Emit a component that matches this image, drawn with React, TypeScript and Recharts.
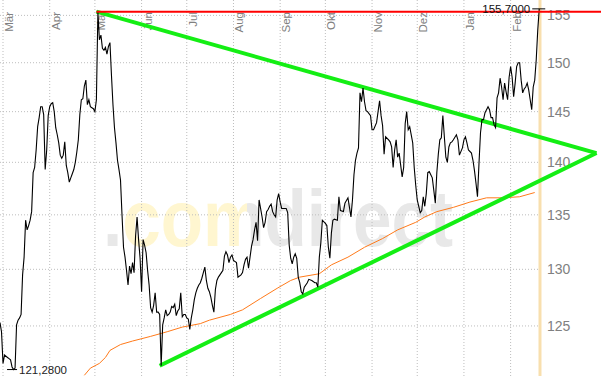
import React from "react";
import { ComposedChart, Line, XAxis, YAxis, ReferenceLine, ReferenceDot } from "recharts";

const FONT = "'Liberation Sans', Arial, Helvetica, sans-serif";

// x values are calendar days counted from 1 March
const monthTicks = [0, 31, 61, 92, 122, 153, 184, 214, 245, 275, 306, 337];
const monthLabels = ["Mär", "Apr", "Mai", "Jun", "Jul", "Aug", "Sep", "Okt", "Nov", "Dez", "Jan", "Feb"];
const priceTicks = [125, 130, 135, 140, 145, 150, 155];

const priceDays = [
  -2, -1, 0, 1, 3, 4, 5, 6, 7, 8,
  9, 10, 11, 12, 13, 14, 15, 16, 17, 18,
  19, 20, 21, 22, 23, 24, 25, 26, 27, 28,
  29, 30, 31, 32, 33, 34, 35, 36, 37, 38,
  39, 40, 41, 42, 43, 44, 45, 46, 47, 48,
  49, 50, 51, 52, 53, 54, 55, 56, 57, 58,
  59, 60, 61, 62, 63, 64, 65, 66, 67, 68,
  69, 70, 71, 72, 73, 74, 75, 76, 77, 78,
  79, 80, 81, 82, 83, 84, 85, 86, 87, 88,
  89, 90, 91, 92, 93, 94, 95, 96, 97, 98,
  99, 100, 101, 102, 103, 104, 105, 106, 107, 108,
  109, 110, 111, 112, 113, 114, 115, 116, 117, 118,
  119, 120, 121, 122, 123, 124, 125, 126, 127, 128,
  129, 130, 131, 132, 133, 134, 135, 136, 137, 138,
  139, 140, 141, 142, 143, 145, 146, 147, 148, 149,
  150, 151, 152, 153, 155, 156, 158, 159, 160, 161,
  162, 163, 164, 165, 166, 167, 168, 169, 170, 171,
  172, 173, 174, 175, 176, 177, 178, 179, 180, 181,
  182, 183, 184, 185, 187, 188, 189, 190, 191, 192,
  193, 194, 195, 196, 197, 198, 199, 200, 202, 203,
  205, 207, 208, 209, 210, 211, 212, 214, 215, 216,
  217, 218, 219, 220, 222, 223, 224, 226, 227, 229,
  230, 231, 232, 233, 234, 235, 236, 237, 238, 239,
  240, 241, 242, 244, 245, 246, 248, 249, 250, 251,
  252, 253, 254, 256, 257, 258, 259, 260, 261, 262,
  263, 265, 266, 267, 268, 269, 270, 272, 273, 274,
  275, 276, 277, 278, 279, 280, 281, 282, 283, 285,
  286, 287, 288, 289, 290, 291, 292, 293, 294, 295,
  296, 297, 298, 299, 301, 302, 303, 305, 306, 307,
  308, 309, 311, 312, 313, 314, 315, 316, 317, 318,
  319, 320, 321, 322, 323, 324, 325, 326, 327, 328,
  329, 330, 331, 332, 333, 334, 335, 336, 337, 338,
  339, 340, 341, 342, 343, 344, 345, 346, 347, 348,
  349, 350, 351, 352, 353, 354, 355, 356,
];

const priceValues = [
  125.3, 124.5, 121.8, 122.5, 122.3, 122.2, 122.1, 121.5, 121.28, 121.4,
  125.1, 125.5, 125.7, 126.0, 129.5, 131.1, 134.5, 133.6, 134.0, 134.5,
  135.3, 139.0, 139.5, 141.2, 143.5, 144.4, 145.5, 145.5, 144.7, 139.3,
  141.2, 144.6, 145.5, 145.8, 145.9, 145.0, 143.4, 142.7, 141.9, 140.7,
  140.4, 140.7, 142.0, 139.7, 139.0, 138.1, 138.5, 138.9, 139.3, 140.0,
  141.0, 142.2, 144.7, 146.2, 146.3, 147.6, 148.2, 145.7, 146.2, 145.5,
  145.4, 145.3, 145.0, 146.2, 155.4, 152.4, 152.9, 151.5, 151.3, 151.6,
  150.9, 151.7, 152.1, 148.7, 145.7, 143.4, 141.9, 140.2, 139.3, 138.3,
  135.0, 132.0, 131.1, 129.9, 128.6, 130.3, 129.6, 130.6, 129.7, 133.0,
  134.8, 132.7, 131.0, 128.0, 132.7, 132.2, 131.5, 129.9, 128.6, 126.6,
  126.2, 126.8, 127.9, 126.2, 126.2, 126.0, 121.6, 125.1, 125.7, 126.4,
  125.9, 126.0, 126.2, 126.7, 126.6, 126.9, 125.9, 126.3, 126.5, 127.9,
  125.8, 126.0, 126.0, 125.7, 125.6, 124.7, 125.7, 126.4, 127.3, 127.9,
  128.3, 128.6, 128.8, 129.2, 129.7, 130.2, 129.0, 128.3, 128.0, 127.5,
  126.8, 126.2, 128.2, 129.0, 129.3, 129.7, 129.9, 131.2, 131.6, 131.3,
  130.6, 131.1, 131.3, 130.8, 130.6, 129.3, 129.5, 129.7, 130.4, 130.9,
  131.1, 130.1, 131.1, 132.1, 132.7, 133.6, 134.3, 132.6, 136.4, 135.6,
  134.8, 133.8, 134.3, 135.3, 135.5, 135.8, 136.0, 135.3, 135.0, 134.8,
  136.4, 137.0, 136.2, 135.6, 135.6, 135.6, 135.2, 132.2, 131.0, 130.5,
  131.1, 131.4, 131.0, 129.3, 128.8, 128.0, 127.8, 128.4, 128.8, 129.1,
  129.0, 128.8, 128.8, 128.4, 131.1, 132.4, 134.5, 134.2, 134.0, 132.0,
  131.0, 133.3, 134.5, 134.6, 134.5, 136.7, 135.4, 135.3, 136.1, 136.6,
  135.7, 134.8, 136.4, 138.8, 140.2, 140.9, 141.4, 146.9, 146.0, 147.4,
  146.0, 145.1, 145.0, 144.6, 143.2, 143.2, 143.9, 145.0, 146.1, 144.6,
  143.6, 140.8, 142.5, 142.2, 142.0, 141.5, 139.5, 141.2, 142.2, 140.5,
  140.9, 138.6, 139.5, 143.8, 145.0, 143.2, 143.5, 141.9, 139.5, 137.8,
  136.4, 135.8, 135.2, 135.4, 136.7, 135.8, 137.0, 139.0, 139.1, 138.5,
  137.3, 136.1, 139.0, 140.8, 142.2, 142.4, 144.6, 142.5, 140.5, 140.0,
  141.5, 141.9, 142.0, 142.2, 142.7, 142.2, 140.7, 141.4, 142.2, 142.5,
  141.9, 141.2, 140.9, 140.2, 139.2, 138.0, 136.7, 139.9, 142.9, 144.2,
  144.2, 144.9, 145.2, 145.5, 145.2, 144.4, 144.4, 143.7, 143.4, 146.4,
  146.9, 148.4, 147.5, 146.2, 147.9, 147.0, 146.2, 148.5, 149.6, 148.5,
  146.5, 147.9, 149.6, 150.0, 150.0, 148.2, 146.9, 147.3, 147.5, 147.9,
  147.2, 146.2, 145.2, 147.5, 148.2, 150.3, 153.4, 155.7,
];

// 200-day moving average
const maDays = [54, 58, 64, 68, 71, 78, 86, 98, 109, 119, 131, 137, 151, 159, 171, 182, 191, 197, 210, 218, 229, 240, 252, 262, 274, 280, 288, 299, 310, 321, 332, 343, 353];
const maValues = [120.8, 121.4, 121.8, 122.3, 122.9, 123.4, 123.7, 124.1, 124.5, 124.9, 125.2, 125.5, 126.0, 126.4, 127.4, 128.3, 129.0, 129.3, 129.6, 130.4, 131.1, 132.0, 132.8, 133.6, 134.3, 134.8, 135.3, 135.7, 136.2, 136.6, 136.6, 136.7, 137.1];

// triangle trend lines and resistance
const upperTrendDays = [62, 394];
const upperTrendValues = [155.4, 140.9];
const lowerTrendDays = [104, 394];
const lowerTrendValues = [121.6, 140.9];
const resistanceDays = [62, 397];
const resistanceValues = [155.4, 155.4];

const highDay = 356;
const highValue = 155.7;
const lowDay = 7;
const lowValue = 121.28;
const todayDay = 356.5;

const X_DOMAIN: [number, number] = [-2, 397];
const Y_DOMAIN: [number, number] = [120.74, 156.66];
const GRID = "#bdbdbd";

const toSeries = (days: number[], vals: number[]) => days.map((d, i) => ({ d, v: vals[i] }));
const fmt = (v: number) => v.toFixed(4).replace(".", ",");

const MonthLabel = (props: any) => {
  const { viewBox, text } = props;
  if (!viewBox) return null;
  const tx = viewBox.x + 10;
  const ty = 12;
  return (
    <text x={tx} y={ty} transform={`rotate(-90, ${tx}, ${ty})`} textAnchor="end" fill="#808080" fontSize={11.5} fontFamily={FONT}>
      {text}
    </text>
  );
};

const PriceLabel = (props: any) => {
  const { viewBox, text } = props;
  if (!viewBox) return null;
  return (
    <text x={547} y={viewBox.y + 5} textAnchor="start" fill="#808080" fontSize={14} fontFamily={FONT}>
      {text}
    </text>
  );
};

const HighMarker = (props: any) => {
  const { cx, cy } = props;
  return (
    <g>
      <text x={cx - 9} y={cy + 4} textAnchor="end" fill="#111" fontSize={11.5} fontFamily={FONT}>{fmt(highValue)}</text>
      <line x1={cx - 7} x2={cx + 6} y1={cy} y2={cy} stroke="#000" strokeWidth={1} />
    </g>
  );
};

const LowMarker = (props: any) => {
  const { cx, cy } = props;
  return (
    <g>
      <line x1={cx - 6.5} x2={cx + 3.5} y1={cy} y2={cy} stroke="#000" strokeWidth={1} />
      <text x={cx + 5.5} y={cy + 4} textAnchor="start" fill="#222" fontSize={11.5} fontFamily={FONT}>{fmt(lowValue)}</text>
    </g>
  );
};

export default function App() {
  const W = 601;
  const H = 376;
  const price = toSeries(priceDays, priceValues);
  const ma = toSeries(maDays, maValues);
  const upper = toSeries(upperTrendDays, upperTrendValues);
  const lower = toSeries(lowerTrendDays, lowerTrendValues);
  const resist = toSeries(resistanceDays, resistanceValues);
  const lastGridDay = priceDays[priceDays.length - 1];

  return (
    <div style={{ position: "absolute", left: 0, top: 0, width: W, height: H, background: "#fff", overflow: "hidden" }}>
      <svg width={W} height={H} style={{ position: "absolute", left: 0, top: 0 }}>
        <defs>
          <linearGradient id="wm" gradientUnits="userSpaceOnUse" x1={103} y1={0} x2={455} y2={0}>
            <stop offset="0" stopColor="#e8e8e8" />
            <stop offset="0.045" stopColor="#e8e8e8" />
            <stop offset="0.045" stopColor="#fff6d0" />
            <stop offset="0.41" stopColor="#fff6d0" />
            <stop offset="0.41" stopColor="#e8e8e8" />
            <stop offset="1" stopColor="#e8e8e8" />
          </linearGradient>
        </defs>
        <text x={103} y={246} fontSize={80} fontWeight="bold" fontFamily={FONT} fill="url(#wm)" textLength={350} lengthAdjust="spacingAndGlyphs">
          .comdirect
        </text>
      </svg>
      <div style={{ position: "absolute", left: 0, top: 0 }}>
        <ComposedChart width={W} height={H} margin={{ top: 0, right: 0, bottom: 0, left: 0 }}>
          <XAxis dataKey="d" type="number" domain={X_DOMAIN} allowDataOverflow hide />
          <YAxis type="number" scale="log" domain={Y_DOMAIN} allowDataOverflow hide />
          {monthTicks.map((m, i) => (
            <ReferenceLine
              key={`vx${m}`}
              x={m}
              stroke={GRID}
              strokeDasharray="1 2"
              strokeWidth={1}
              label={<MonthLabel text={monthLabels[i]} />}
            />
          ))}
          {priceTicks.map((p) => (
            <ReferenceLine
              key={`hy${p}`}
              segment={[{ x: X_DOMAIN[0], y: p }, { x: lastGridDay, y: p }]}
              stroke={GRID}
              strokeDasharray="1 2"
              strokeWidth={1}
            />
          ))}
          {priceTicks.map((p) => (
            <ReferenceLine key={`lb${p}`} y={p} stroke="none" strokeOpacity={0} label={<PriceLabel text={String(p)} />} />
          ))}
          <ReferenceLine x={todayDay} stroke="#f8dfae" strokeWidth={3} />
          <Line data={ma} dataKey="v" type="linear" stroke="#ff7a1a" strokeWidth={1} dot={false} activeDot={false} isAnimationActive={false} />
          <Line data={upper} dataKey="v" type="linear" stroke="#14ee14" strokeWidth={4} dot={false} activeDot={false} isAnimationActive={false} />
          <Line data={lower} dataKey="v" type="linear" stroke="#14ee14" strokeWidth={4} dot={false} activeDot={false} isAnimationActive={false} />
          <Line data={price} dataKey="v" type="linear" stroke="#000" strokeWidth={1.1} dot={false} activeDot={false} isAnimationActive={false} />
          <Line data={resist} dataKey="v" type="linear" stroke="#ff0000" strokeWidth={2} dot={false} activeDot={false} isAnimationActive={false} />
          <ReferenceDot x={highDay} y={highValue} r={0} shape={<HighMarker />} />
          <ReferenceDot x={lowDay} y={lowValue} r={0} shape={<LowMarker />} />
        </ComposedChart>
      </div>
    </div>
  );
}
